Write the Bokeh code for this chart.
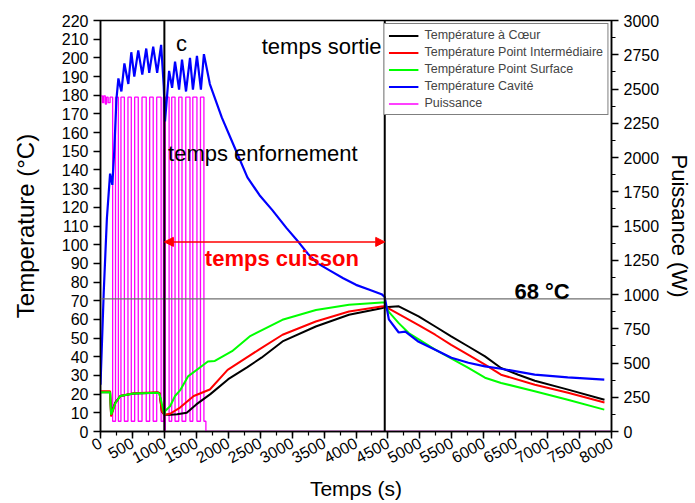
import math
from bokeh.plotting import figure
from bokeh.models import (Range1d, LinearAxis, SingleIntervalTicker, Span, Label,
                          Legend, LegendItem, Arrow, NormalHead)
from bokeh.embed import file_html
from bokeh.resources import INLINE

# ---------------- data ----------------
t_core = [0, 150, 166, 230, 310, 520, 900, 925, 960, 1000, 1100, 1200, 1350, 1500, 1720, 2000, 2300, 2520,
          2850, 3370, 3890, 4400, 4450, 4670, 4980, 5240, 5490, 5760, 6020, 6270, 6540, 6800, 7320, 7890]
v_core = [21, 21, 9, 15.5, 19, 20.3, 20.8, 20.5, 10.8, 9, 9, 9.2, 10, 14.5, 20, 28, 34.5, 39.5,
          48.2, 56.2, 62.5, 66, 66.5, 67, 61.6, 56.2, 50.9, 45.5, 40.2, 34, 30.4, 27.2, 22.4, 17]

t_mid = [0, 150, 166, 230, 310, 520, 900, 925, 960, 1000, 1090, 1245, 1460, 1712, 1990, 2480, 2850, 3370,
         3890, 4400, 4450, 4600, 4980, 5240, 5490, 5760, 6020, 6270, 6800, 7320, 7890]
v_mid = [21.5, 21.5, 8, 15, 19, 20.5, 21, 20.5, 11, 9, 9.5, 12.8, 19, 22.5, 33, 43.8, 51.8, 58.9,
         64.2, 66.9, 67, 64.2, 57, 51.8, 46.4, 41, 35.8, 30.4, 25, 20.7, 15.5]

t_surf = [0, 150, 166, 230, 310, 520, 900, 925, 1000, 1012, 1089, 1167, 1245, 1370, 1583, 1681, 1790, 2060,
          2335, 2848, 3373, 3891, 4405, 4450, 4514, 4669, 4825, 5240, 5759, 6019, 6272, 6797, 7315, 7887]
v_surf = [21, 21, 9, 15, 19, 20.3, 20.8, 20, 9, 11, 13.5, 19, 22, 29.5, 34.9, 37.5, 37.8, 43,
          50.9, 59.8, 65, 67.8, 69, 69, 64, 58, 52.7, 43.8, 34, 28.8, 26, 21.5, 17, 11.7]

t_cav = [0, 50, 100, 150, 185, 215, 250, 280, 327, 374, 436, 482, 529, 591, 654, 716, 763, 825, 887, 949,
         990, 1010, 1074, 1121, 1167, 1230, 1276, 1339, 1401, 1447, 1510, 1572, 1619, 1712, 1900, 2100,
         2300, 2490, 2690, 2910, 3110, 3250, 3400, 3600, 3800, 4000, 4200, 4400, 4450, 4514, 4669, 4773,
         4981, 5240, 5494, 5759, 6019, 6272, 6797, 7315, 7887]
v_cav = [25, 74, 114, 138, 132, 150, 178, 189, 182, 197, 186, 203, 190, 204, 191, 205, 192, 206, 192, 207,
         185, 166, 193, 184, 198, 183, 199, 182, 200, 183, 201, 183, 202, 186, 168, 152,
         136, 126.5, 118.5, 109, 101, 95, 90, 86, 82, 78.5, 76, 73.5, 72, 60, 53, 53.5,
         48, 43.8, 39.5, 36.8, 34.9, 33.6, 30.4, 29, 27.8]

power_t = [0, 30, 50, 75, 95, 120, 150, 190, 235, 280, 320, 374, 430, 482, 535, 591, 650, 716, 770, 825,
           880, 949, 985, 1000, 1015, 1074, 1115, 1167, 1225, 1276, 1335, 1401, 1445, 1510, 1565, 1619,
           1650, 7980]
power_w = [2450, 2400, 2450, 2390, 2440, 2400, 2440, 75, 2440, 75, 2440, 75, 2440, 75, 2440, 75, 2440, 75, 2440, 75,
           2440, 75, 2440, 0, 2440, 75, 2440, 75, 2440, 75, 2440, 75, 2440, 75, 2440, 75,
           0, 0]

t_door = 1000
t_exit = 4450
temp_ref = 71
arrow_level = 101.5

FONT = "Liberation Sans"

# ---------------- figure ----------------
p = figure(width=695, height=503, x_range=Range1d(0, 8000), y_range=Range1d(0, 220),
           output_backend="svg", toolbar_location=None,
           min_border_left=100, min_border_right=81, min_border_top=20, min_border_bottom=71)
p.extra_y_ranges = {"power": Range1d(0, 3000)}
p.xgrid.visible = False
p.ygrid.visible = False
p.outline_line_color = "black"
p.outline_line_width = 1.5
p.background_fill_color = "white"
p.border_fill_color = "white"

r_pow = p.step(power_t, power_w, mode="after", y_range_name="power", line_color="#FF00FF", line_width=1.3)
r_core = p.line(t_core, v_core, line_color="black", line_width=2)
r_mid = p.line(t_mid, v_mid, line_color="#FF0000", line_width=2)
r_surf = p.line(t_surf, v_surf, line_color="#00FF00", line_width=2)
r_cav = p.line(t_cav, v_cav, line_color="#0000FF", line_width=2.2)

# reference lines
p.add_layout(Span(location=temp_ref, dimension="width", line_color="#707070", line_width=1.2))
p.add_layout(Span(location=t_door, dimension="height", line_color="black", line_width=2))
p.add_layout(Span(location=t_exit, dimension="height", line_color="black", line_width=2))

p.add_layout(Arrow(start=NormalHead(size=9, fill_color="red", line_color="red"),
                   end=NormalHead(size=9, fill_color="red", line_color="red"),
                   x_start=t_door, y_start=arrow_level, x_end=t_exit, y_end=arrow_level,
                   line_color="red", line_width=1.5))

def lab(x, y, text, color="black", bold=False, align="left"):
    p.add_layout(Label(x=x, y=y, text=text, text_font=FONT, text_font_size="22px",
                       text_color=color, text_font_style="bold" if bold else "normal",
                       text_align=align, text_baseline="alphabetic"))

lab(1183, 207.7, "c")
lab(4400, 206, "temps sortie", align="right")
lab(1058, 149, "temps enfornement")
lab(1634, 92.7, "temps cuisson", color="#FF0000", bold=True)
lab(7346, 75, "68 °C", bold=True, align="right")

# axes
def style_axis(ax, label, size):
    ax.axis_label = label
    ax.axis_label_text_font = FONT
    ax.axis_label_text_font_size = size
    ax.axis_label_text_font_style = "normal"
    ax.axis_label_text_color = "black"
    ax.major_label_text_font = FONT
    ax.major_label_text_font_size = "16px"
    ax.major_label_text_color = "black"
    ax.axis_line_color = "black"
    ax.axis_line_width = 1.5
    ax.major_tick_line_color = "black"
    ax.major_tick_line_width = 1.5
    ax.minor_tick_line_color = "black"
    ax.minor_tick_line_width = 1.2
    ax.major_tick_in = 0
    ax.major_tick_out = 7
    ax.minor_tick_in = 0
    ax.minor_tick_out = 4

xa = p.xaxis[0]
xa.ticker = SingleIntervalTicker(interval=500, num_minor_ticks=2)
style_axis(xa, "Temps (s)", "21px")
xa.major_label_orientation = 0.5
xa.major_label_standoff = 3
xa.axis_label_standoff = 5

ya = p.yaxis[0]
ya.ticker = SingleIntervalTicker(interval=10, num_minor_ticks=0)
style_axis(ya, "Temperature (°C)", "24px")
ya.axis_label_standoff = 20

ra = LinearAxis(y_range_name="power")
ra.ticker = SingleIntervalTicker(interval=250, num_minor_ticks=2)
style_axis(ra, "Puissance (W)", "22px")
ra.axis_label_standoff = 5
p.add_layout(ra, "right")

legend = Legend(items=[
    LegendItem(label="Température à Cœur", renderers=[r_core]),
    LegendItem(label="Température Point Intermédiaire", renderers=[r_mid]),
    LegendItem(label="Température Point Surface", renderers=[r_surf]),
    LegendItem(label="Température Cavité", renderers=[r_cav]),
    LegendItem(label="Puissance", renderers=[r_pow]),
], location="top_right")
legend.label_text_font = FONT
legend.label_text_font_size = "12.5px"
legend.label_height = 13
legend.glyph_height = 13
legend.glyph_width = 30
legend.spacing = 3
legend.padding = 4
legend.margin = 3
legend.label_standoff = 6
legend.border_line_color = "black"
legend.border_line_width = 1
legend.background_fill_alpha = 1
p.add_layout(legend)

open("out.html", "w").write(file_html(p, INLINE))
